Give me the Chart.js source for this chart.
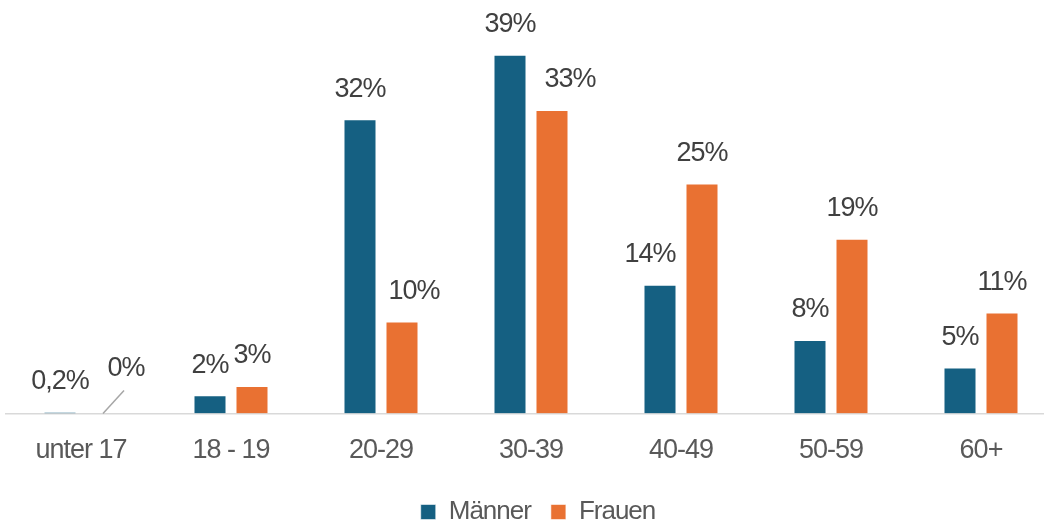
<!DOCTYPE html>
<html>
<head>
<meta charset="utf-8">
<script src="https://cdn.jsdelivr.net/npm/chart.js@4"></script>
<style>
  html, body { margin: 0; padding: 0; background: #fff; overflow: hidden; }
  #wrap { width: 1060px; height: 520px; }
</style>
</head>
<body>
<div id="wrap"><canvas id="myChart"></canvas></div>
<script>
// Altersgruppen
const categories = ['unter 17', '18 - 19', '20-29', '30-39', '40-49', '50-59', '60+'];
const maenner = [0.2, 2, 32, 39, 14, 8, 5];
const frauen = [0, 3, 10, 33, 25, 19, 11];

const FONT = 'Liberation Sans, Arial, sans-serif';

// manually moved labels, like in the original (dataset:index -> shift)
const labelShift = {
  '1:0': { dx: 24, dy: -15, leader: true },
  '1:2': { dx: 12, dy: 0 },
  '1:3': { dx: 18, dy: 0 },
  '0:4': { dx: -10, dy: 0 }
};

function fmt(v) {
  return String(v).replace('.', ',') + '%';
}

const tightText = {
  id: 'tightText',
  afterLayout(chart) {
    // legend sits a bit right of centre in the original
    chart.legend.left += 13;
    chart.legend.right += 13;
  },
  beforeDraw(chart) {
    chart.ctx.letterSpacing = '-1px';
  }
};

const valueLabels = {
  id: 'valueLabels',
  afterDatasetsDraw(chart) {
    const ctx = chart.ctx;
    ctx.save();
    ctx.letterSpacing = '-1px';
    ctx.font = '27px ' + FONT;
    ctx.fillStyle = '#404040';
    ctx.textAlign = 'center';
    ctx.textBaseline = 'middle';
    chart.data.datasets.forEach((ds, di) => {
      chart.getDatasetMeta(di).data.forEach((bar, i) => {
        const s = labelShift[di + ':' + i] || { dx: 0, dy: 0 };
        const x = bar.x + s.dx;
        const y = bar.y - 30 + s.dy;
        if (s.leader) {
          ctx.strokeStyle = '#a6a6a6';
          ctx.lineWidth = 1.5;
          ctx.beginPath();
          ctx.moveTo(bar.x + 1, bar.y);
          ctx.lineTo(x - 2, y + 22);
          ctx.stroke();
        }
        ctx.fillText(fmt(ds.data[i]), x, y);
      });
    });
    ctx.restore();
  }
};

const ctx = document.getElementById('myChart').getContext('2d');
const myChart = new Chart(ctx, {
  type: 'bar',
  data: {
    labels: categories,
    datasets: [
      {
        label: 'Männer',
        data: maenner,
        backgroundColor: '#156082',
        borderColor: 'rgba(255,255,255,0.55)',
        borderWidth: 1,
        categoryPercentage: 0.56,
        barPercentage: 0.786
      },
      {
        label: 'Frauen',
        data: frauen,
        backgroundColor: '#E97132',
        borderColor: 'rgba(255,255,255,0.55)',
        borderWidth: 1,
        categoryPercentage: 0.56,
        barPercentage: 0.786
      }
    ]
  },
  options: {
    responsive: true,
    maintainAspectRatio: false,
    animation: false,
    layout: { padding: { left: 6, right: 4, top: 29, bottom: -15 } },
    scales: {
      x: {
        grid: { display: false, drawTicks: false },
        border: { display: true, color: '#d9d9d9', width: 1.5 },
        ticks: {
          color: '#595959',
          font: { family: FONT, size: 27 },
          padding: 20.5,
          autoSkip: false,
          maxRotation: 0
        },
        // keep the label gap below the axis without growing the axis box
        afterFit(scale) {
          scale.height -= 8;
        }
      },
      y: {
        display: false,
        min: 0,
        max: 41.8
      }
    },
    plugins: {
      legend: {
        position: 'bottom',
        labels: {
          boxWidth: 15,
          boxHeight: 15,
          padding: 20,
          color: '#595959',
          font: { family: FONT, size: 26 }
        }
      },
      tooltip: { enabled: false }
    }
  },
  plugins: [tightText, valueLabels]
});
</script>
</body>
</html>
